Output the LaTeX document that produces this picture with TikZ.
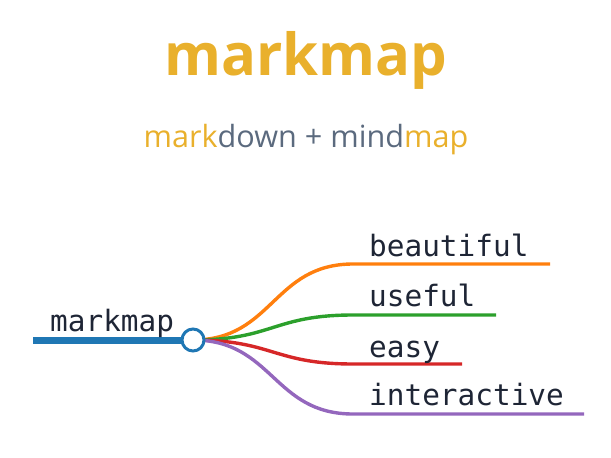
\documentclass[tikz,border=0pt]{standalone}
\usepackage{fontspec}
\setmainfont{Open Sans}
\newfontfamily\codefont{DejaVu Sans Mono}

\definecolor{gold}{HTML}{E9B02C}
\definecolor{slate}{HTML}{5B6A7E}
\definecolor{ink}{HTML}{1E2535}
\definecolor{mmblue}{HTML}{1F77B4}
\definecolor{mmorange}{HTML}{FF7F0E}
\definecolor{mmgreen}{HTML}{2CA02C}
\definecolor{mmred}{HTML}{D62728}
\definecolor{mmpurple}{HTML}{9467BD}

\tikzset{
  branch/.style={line width=3.4pt},
  leaf/.style={anchor=base west, inner sep=0pt, text=ink,
    font={\codefont\fontsize{29.4}{34}\selectfont}},
  hubdot/.style={circle, draw=mmblue, fill=white, line width=3pt,
    inner sep=0pt, minimum size=22pt},
}

\begin{document}
\begin{tikzpicture}[x=1pt, y=-1pt]
    \useasboundingbox (0,0) rectangle (611,458);

    \node[anchor=base, inner sep=0pt, text=gold,
      font={\bfseries\fontsize{58}{68}\selectfont}] (title) at (306,75) {markmap};
    \node[anchor=base, inner sep=0pt, text=slate,
      font={\fontsize{30.6}{36}\selectfont}] (subtitle) at (306,147)
      {\textcolor{gold}{mark}down + mind\textcolor{gold}{map}};

    \coordinate (rootstart) at (33,340);
    \coordinate (hub) at (193,340);
    \coordinate (b1) at (353,264);  \coordinate (b1end) at (550,264);
    \coordinate (b2) at (353,315);  \coordinate (b2end) at (496,315);
    \coordinate (b3) at (353,364);  \coordinate (b3end) at (462,364);
    \coordinate (b4) at (353,414);  \coordinate (b4end) at (584,414);

    \draw[mmblue, line width=7pt] (rootstart) -- (hub);
    \draw[branch, mmorange] (hub) .. controls +(80,0) and +(-80,0) .. (b1) -- (b1end);
    \draw[branch, mmgreen] (hub) .. controls +(80,0) and +(-80,0) .. (b2) -- (b2end);
    \draw[branch, mmred] (hub) .. controls +(80,0) and +(-80,0) .. (b3) -- (b3end);
    \draw[branch, mmpurple] (hub) .. controls +(80,0) and +(-80,0) .. (b4) -- (b4end);

    \node[hubdot] (root) at (hub) {};
    \node[leaf] (rootlabel) at (50,331) {markmap};

    \node[leaf] (beautiful) at (369,256) {beautiful};
    \node[leaf] (useful) at (369,306) {useful};
    \node[leaf] (easy) at (369,357) {easy};
    \node[leaf] (interactive) at (369,405) {interactive};
\end{tikzpicture}
\end{document}
